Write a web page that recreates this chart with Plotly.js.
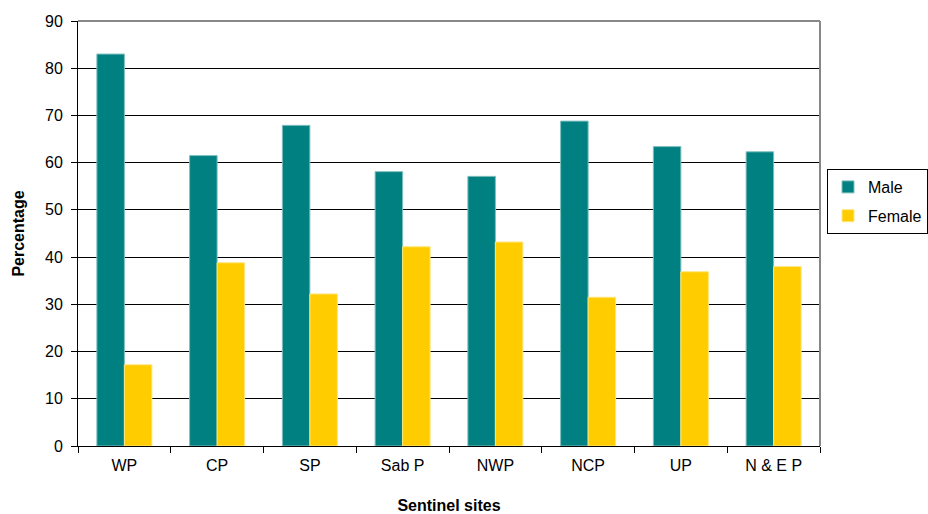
<!DOCTYPE html>
<html>
<head>
<meta charset="utf-8">
<script src="https://cdn.plot.ly/plotly-3.0.1.min.js"></script>
<style>html,body{margin:0;padding:0;background:#fff;}#chart{width:928px;height:514px;}</style>
</head>
<body>
<div id="chart"></div>
<script>
const categories = ["WP", "CP", "SP", "Sab P", "NWP", "NCP", "UP", "N & E P"];
const maleValues = [83.0, 61.5, 67.9, 58.1, 57.1, 68.8, 63.4, 62.3];
const femaleValues = [17.2, 38.8, 32.2, 42.2, 43.2, 31.5, 36.9, 38.0];
const yTickVals = [0, 10, 20, 30, 40, 50, 60, 70, 80, 90];

const font = "Liberation Sans, Arial, sans-serif";

const traces = [
  {type: "bar", name: "Male", x: categories, y: maleValues, legendgroup: "m",
   marker: {color: "#008080", line: {color: "#7fbfbf", width: 1}}},
  {type: "bar", name: "Female", x: categories, y: femaleValues, legendgroup: "f",
   marker: {color: "#FFCC00", line: {color: "#ffe680", width: 1}}}
];

const layout = {
  width: 928, height: 514,
  margin: {l: 78, r: 108, t: 21, b: 68, pad: 0, autoexpand: false},
  paper_bgcolor: "#fff", plot_bgcolor: "#fff",
  font: {family: font, size: 16, color: "#000"},
  barmode: "group", bargap: 0.407, bargroupgap: 0,
  showlegend: true,
  legend: {xref: "container", yref: "container", x: 827/928, xanchor: "left",
           y: 1 - 169/514, yanchor: "top",
           bordercolor: "#000", borderwidth: 1, bgcolor: "#fff",
           font: {family: font, size: 16, color: "#000"},
           itemwidth: 30, tracegroupgap: 5, traceorder: "grouped"},
  xaxis: {type: "category", tickson: "boundaries", ticks: "outside", ticklen: 6,
          tickcolor: "#000", showline: true, linecolor: "#000", linewidth: 1,
          mirror: false, showgrid: false, tickfont: {family: font, size: 16},
          ticklabelstandoff: 5,
          title: {text: "<b>Sentinel sites</b>", font: {family: font, size: 16}, standoff: 28}},
  yaxis: {range: [0, 90], tickvals: yTickVals, ticktext: yTickVals.map(String),
          ticks: "outside", ticklen: 6, tickcolor: "#000",
          showline: true, linecolor: "#000", linewidth: 1,
          showgrid: true, gridcolor: "#000", gridwidth: 1, zeroline: false,
          tickfont: {family: font, size: 16}, ticklabelstandoff: 5,
          title: {text: "<b>Percentage</b>", font: {family: font, size: 16}, standoff: 16}},
  shapes: [
    {type: "line", xref: "paper", yref: "paper", x0: 0, x1: 1, y0: 1, y1: 1,
     line: {color: "#888", width: 2}},
    {type: "line", xref: "paper", yref: "paper", x0: 1, x1: 1, y0: 0, y1: 1,
     line: {color: "#888", width: 2}}
  ]
};

Plotly.newPlot("chart", traces, layout, {displayModeBar: false, staticPlot: true});
</script>
</body>
</html>
